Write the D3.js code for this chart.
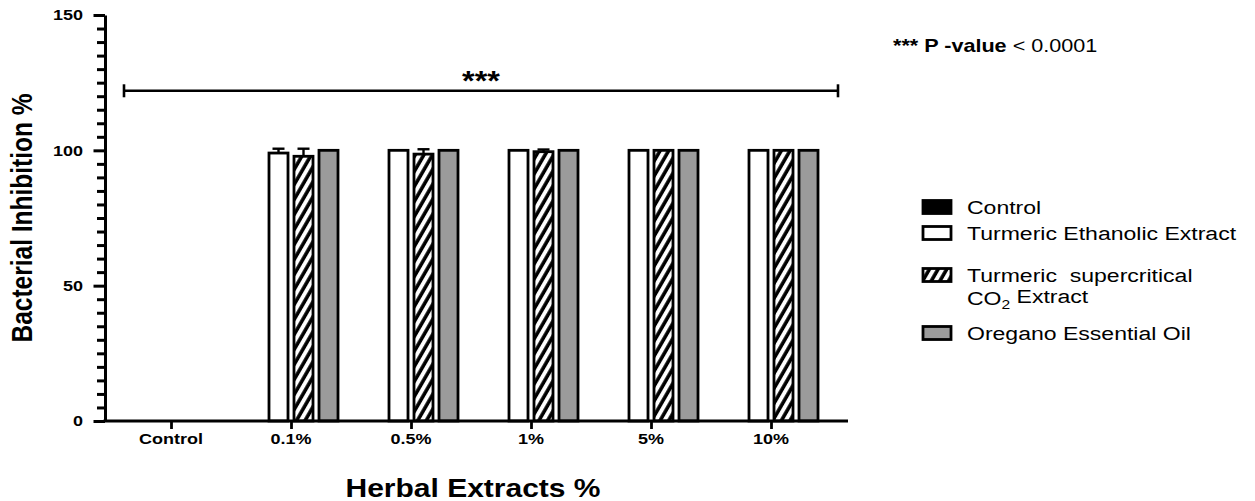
<!DOCTYPE html>
<html>
<head>
<meta charset="utf-8">
<script src="https://cdn.jsdelivr.net/npm/d3@7"></script>
<style>
  body { margin: 0; background: #fff; }
  svg { display: block; }
  text { font-family: "Liberation Sans", Arial, Helvetica, sans-serif; fill: #000; white-space: pre; }
</style>
</head>
<body>
<svg id="chart" width="1255" height="501"></svg>
<script>
// ---- data ----
const categories = ["Control", "0.1%", "0.5%", "1%", "5%", "10%"];
const seriesKeys = ["control", "ethanolic", "co2", "oregano"];
const controlValues   = [0, 0, 0, 0, 0, 0];
const controlErrors   = [0, 0, 0, 0, 0, 0];
const ethanolicValues = [0, 99.0, 100, 100, 100, 100];
const ethanolicErrors = [0, 1.6, 0, 0, 0, 0];
const co2Values       = [0, 97.8, 98.6, 99.5, 100, 100];
const co2Errors       = [0, 2.8, 1.8, 0.8, 0, 0];
const oreganoValues   = [0, 100, 100, 100, 100, 100];
const oreganoErrors   = [0, 0, 0, 0, 0, 0];
const yTickValues = [0, 50, 100, 150];
const sigValue = 122;
const sigLabel = "***";

const valuesByKey = { control: controlValues, ethanolic: ethanolicValues, co2: co2Values, oregano: oreganoValues };
const errorsByKey = { control: controlErrors, ethanolic: ethanolicErrors, co2: co2Errors, oregano: oreganoErrors };

// ---- layout ----
const SX = 1.2;            // horizontal glyph stretch used throughout the figure
const axisX = 105, axisY = 421, axisTop = 15, axisRight = 848;
const svg = d3.select("#chart");

const y = d3.scaleLinear().domain([0, 150]).range([axisY, axisTop]);
const x = d3.scalePoint().domain(categories).range([171, 771]);
const xSub = d3.scaleBand().domain(seriesKeys).range([-47, 47]).paddingInner(0.24);

const fills = { control: "#000", ethanolic: "#fff", co2: "url(#hatch)", oregano: "#9b9b9b" };

// hatch pattern for the supercritical CO2 series
const defs = svg.append("defs");
const pat = defs.append("pattern")
  .attr("id", "hatch").attr("patternUnits", "userSpaceOnUse")
  .attr("width", 7.5).attr("height", 7.5)
  .attr("patternTransform", "rotate(30)");
pat.append("rect").attr("width", 7.5).attr("height", 7.5).attr("fill", "#fff");
pat.append("line").attr("x1", 2).attr("y1", 0).attr("x2", 2).attr("y2", 7.5)
  .attr("stroke", "#000").attr("stroke-width", 3.6);

// stretched text helper
function label(parent, txt, px, py, opts = {}) {
  const t = parent.append("text")
    .attr("transform", `translate(${px},${py}) scale(${SX},1)` + (opts.rotate ? ` rotate(${opts.rotate})` : ""))
    .attr("text-anchor", opts.anchor || "start")
    .attr("font-size", opts.size || 14)
    .attr("font-weight", opts.bold ? "bold" : "normal");
  if (opts.dy) t.attr("dy", opts.dy);
  t.text(txt);
  return t;
}

// ---- bars ----
const barData = [];
categories.forEach((c, i) => seriesKeys.forEach(k => {
  barData.push({ cat: c, key: k, v: valuesByKey[k][i], e: errorsByKey[k][i] });
}));

const bars = svg.append("g");
bars.selectAll("rect").data(barData.filter(d => d.v > 0)).join("rect")
  .attr("x", d => x(d.cat) + xSub(d.key))
  .attr("y", d => y(d.v))
  .attr("width", xSub.bandwidth())
  .attr("height", d => y(0) - y(d.v))
  .attr("fill", d => fills[d.key])
  .attr("stroke", "#000").attr("stroke-width", 2.8);

// error bars (upper whisker)
const errs = svg.append("g").attr("stroke", "#000").attr("stroke-width", 2.4);
barData.filter(d => d.e > 0).forEach(d => {
  const cx = x(d.cat) + xSub(d.key) + xSub.bandwidth() / 2;
  errs.append("line").attr("x1", cx).attr("x2", cx).attr("y1", y(d.v)).attr("y2", y(d.v + d.e));
  errs.append("line").attr("x1", cx - 6).attr("x2", cx + 6).attr("y1", y(d.v + d.e)).attr("y2", y(d.v + d.e));
});

// ---- axes ----
const yAxis = svg.append("g").attr("transform", `translate(${axisX},0)`)
  .call(d3.axisLeft(y).tickValues(d3.range(0, 151, 5)).tickSize(8).tickSizeOuter(0).tickFormat(""));
yAxis.select(".domain").attr("stroke", "#000").attr("stroke-width", 3);
yAxis.selectAll(".tick line").attr("stroke", "#000").attr("stroke-width", 3)
  .attr("x2", d => yTickValues.includes(d) ? -11.5 : -8);
yAxis.selectAll(".tick text").remove();
yTickValues.forEach(v => label(svg, String(v), axisX - 22, y(v), { anchor: "end", bold: true, size: 15, dy: "0.35em" }));

// x axis baseline
svg.append("line").attr("x1", axisX - 1.5).attr("x2", axisRight).attr("y1", axisY).attr("y2", axisY)
  .attr("stroke", "#000").attr("stroke-width", 3);
const xAxis = svg.append("g").attr("transform", `translate(0,${axisY})`)
  .call(d3.axisBottom(x).tickSize(8).tickSizeOuter(0).tickFormat(""));
xAxis.select(".domain").remove();
xAxis.selectAll(".tick line").attr("stroke", "#000").attr("stroke-width", 2.8);
categories.forEach(c => label(svg, c, x(c), 444, { anchor: "middle", bold: true, size: 15 }));

// axis titles
label(svg, "Herbal Extracts %", 473, 497, { anchor: "middle", bold: true, size: 25 });
label(svg, "Bacterial Inhibition %", 32, 218, { anchor: "middle", bold: true, size: 24.5, rotate: -90 });

// ---- significance bracket ----
const sx0 = x(categories[0]) - 47, sx1 = x(categories[categories.length - 1]) + 67;
const sy = y(sigValue);
const sig = svg.append("g").attr("stroke", "#000").attr("stroke-width", 2.6);
sig.append("line").attr("x1", sx0).attr("x2", sx1).attr("y1", sy).attr("y2", sy);
sig.append("line").attr("x1", sx0).attr("x2", sx0).attr("y1", sy - 6.5).attr("y2", sy + 6.5);
sig.append("line").attr("x1", sx1).attr("x2", sx1).attr("y1", sy - 6.5).attr("y2", sy + 6.5);
label(svg, sigLabel, (sx0 + sx1) / 2, sy - 1, { anchor: "middle", bold: true, size: 27 });

// ---- p-value note ----
const note = svg.append("text")
  .attr("transform", `translate(893,52) scale(${SX},1)`)
  .attr("font-size", 18);
note.append("tspan").attr("font-weight", "bold").text("*** P -value");
note.append("tspan").text(" < 0.0001");

// ---- legend ----
const legend = svg.append("g");
const legendRows = [
  { key: "control",   cy: 207, lines: ["Control"] },
  { key: "ethanolic", cy: 233, lines: ["Turmeric Ethanolic Extract"] },
  { key: "co2",       cy: 275, lines: ["Turmeric  supercritical", "CO2"] },
  { key: "oregano",   cy: 333, lines: ["Oregano Essential Oil"] }
];
legendRows.forEach(r => {
  legend.append("rect").attr("x", 923).attr("y", r.cy - 6.5).attr("width", 28).attr("height", 13)
    .attr("fill", fills[r.key]).attr("stroke", "#000").attr("stroke-width", 2.8);
  label(legend, r.lines[0], 967, r.cy, { size: 19.2, dy: "0.35em" });
  if (r.lines.length > 1) {
    const t = legend.append("text")
      .attr("transform", `translate(967,${r.cy + 23}) scale(${SX},1)`)
      .attr("font-size", 19.2).attr("dy", "0.35em");
    t.append("tspan").text("CO");
    t.append("tspan").attr("font-size", 13).attr("dy", "0.3em").text("2");
    t.append("tspan").attr("dy", "-0.3em").text(" Extract");
  }
});
</script>
</body>
</html>
